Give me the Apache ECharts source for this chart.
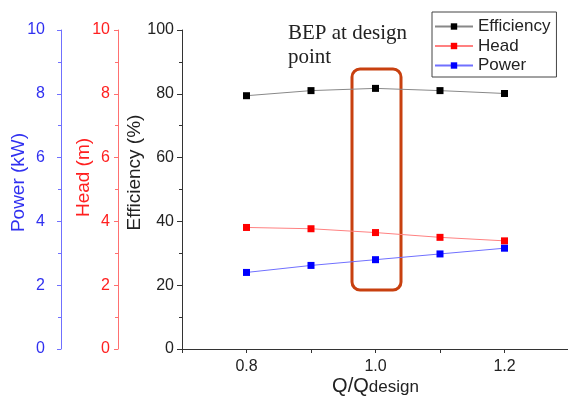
<!DOCTYPE html>
<html><head><meta charset="utf-8">
<script src="https://cdn.jsdelivr.net/npm/echarts@6/dist/echarts.min.js"></script>
<style>html,body{margin:0;padding:0;background:#fff}#c{width:568px;height:401px}</style>
</head><body><div id="c"></div>
<script>
const flowRatio = [0.8, 0.9, 1.0, 1.1, 1.2];
const efficiency = [79.4, 81.0, 81.7, 81.0, 80.1];
const head = [3.81, 3.77, 3.65, 3.50, 3.39];
const power = [2.40, 2.62, 2.80, 2.98, 3.16];
const xLabels = ['0.8', '1.0', '1.2'];

const font = 'Liberation Sans, Arial, sans-serif';
const chart = echarts.init(document.getElementById('c'), null, {renderer: 'canvas'});
const pair = a => flowRatio.map((x, i) => [x, a[i]]);

function yAx(opts) {
  return Object.assign({
    type: 'value', position: 'left', min: 0, max: 10, interval: 2,
    axisLine: {show: true, lineStyle: {width: 1}},
    axisTick: {show: true, length: 4, inside: false},
    minorTick: {show: true, splitNumber: 2, length: 3},
    splitLine: {show: false},
    nameLocation: 'middle', nameRotate: 90, nameMoveOverlap: false,
  }, opts);
}

chart.setOption({
  animation: false,
  grid: {left: 182, top: 30, width: 387, height: 319, containLabel: false, outerBoundsMode: 'none'},
  xAxis: {
    type: 'value', min: 0.7, max: 1.3, interval: 0.1,
    axisLine: {lineStyle: {color: '#333', width: 1}, onZero: false},
    axisTick: {length: 4, lineStyle: {color: '#333'}},
    splitLine: {show: false},
    axisLabel: {
      color: '#222', fontFamily: font, fontSize: 16, margin: 10,
      formatter: v => { const s = v.toFixed(1); return xLabels.includes(s) ? s : ''; }
    },
    name: '{a|Q/Q}{b|design}', nameLocation: 'middle', nameGap: 18, nameMoveOverlap: false,
    nameTextStyle: {rich: {
      a: {fontFamily: font, fontSize: 20, color: '#222', verticalAlign: 'bottom'},
      b: {fontFamily: font, fontSize: 17, color: '#222', verticalAlign: 'top', padding: [12, 0, 0, 0]}
    }}
  },
  yAxis: [
    yAx({min: 0, max: 100, interval: 20,
      axisLine: {show: true, lineStyle: {color: '#333'}},
      axisTick: {length: 5, lineStyle: {color: '#333'}},
      minorTick: {show: true, splitNumber: 2, length: 3, lineStyle: {color: '#333'}},
      axisLabel: {color: '#222', fontFamily: font, fontSize: 16, margin: 8},
      name: 'Efficiency (%)', nameGap: 38, nameTextStyle: {color: '#222', fontFamily: font, fontSize: 19, padding: [0, 0, 0, 34]}}),
    yAx({offset: 64,
      axisLine: {show: true, lineStyle: {color: '#ff7070'}},
      axisTick: {length: 4, lineStyle: {color: '#ff7070'}},
      minorTick: {show: true, splitNumber: 2, length: 3, lineStyle: {color: '#ff7070'}},
      axisLabel: {color: '#ff2020', fontFamily: font, fontSize: 16, margin: 8},
      name: 'Head (m)', nameGap: 25, nameTextStyle: {color: '#ff2020', fontFamily: font, fontSize: 19, padding: [0, 0, 0, 24]}}),
    yAx({offset: 121,
      axisLine: {show: true, lineStyle: {color: '#7070ff'}},
      axisTick: {length: 4, lineStyle: {color: '#7070ff'}},
      minorTick: {show: true, splitNumber: 2, length: 3, lineStyle: {color: '#7070ff'}},
      axisLabel: {color: '#3030f0', fontFamily: font, fontSize: 16, margin: 16},
      name: 'Power (kW)', nameGap: 33, nameTextStyle: {color: '#3030f0', fontFamily: font, fontSize: 19, padding: [0, 0, 0, 14]}})
  ],
  legend: {
    show: true, orient: 'vertical', left: 432, top: 12, width: 121,
    padding: [6, 6, 3, 2], itemGap: 2.5, itemWidth: 38, itemHeight: 8,
    borderColor: '#444', borderWidth: 1, backgroundColor: '#fff',
    textStyle: {fontFamily: font, fontSize: 17, lineHeight: 16, color: '#222', padding: [0, 0, 0, 0]},
    data: ['Efficiency', 'Head', 'Power']
  },
  series: [
    {name: 'Efficiency', type: 'line', yAxisIndex: 0, data: pair(efficiency),
     symbol: 'rect', symbolSize: 7, itemStyle: {color: '#000'}, lineStyle: {color: '#888', width: 1}},
    {name: 'Head', type: 'line', yAxisIndex: 1, data: pair(head),
     symbol: 'rect', symbolSize: 7, itemStyle: {color: '#ff0000'}, lineStyle: {color: '#ff8080', width: 1}},
    {name: 'Power', type: 'line', yAxisIndex: 2, data: pair(power),
     symbol: 'rect', symbolSize: 7, itemStyle: {color: '#0000ff'}, lineStyle: {color: '#7070ff', width: 1}}
  ],
  graphic: [
    {type: 'text', left: 288, top: 21, style: {text: 'BEP at design\npoint', fontFamily: 'Liberation Serif, Times New Roman, serif', fontSize: 21, lineHeight: 24, fill: '#222'}},
    {type: 'rect', shape: {x: 352, y: 69, width: 49, height: 221, r: 8}, style: {fill: 'none', stroke: '#c8400f', lineWidth: 3}}
  ]
});
</script></body></html>
